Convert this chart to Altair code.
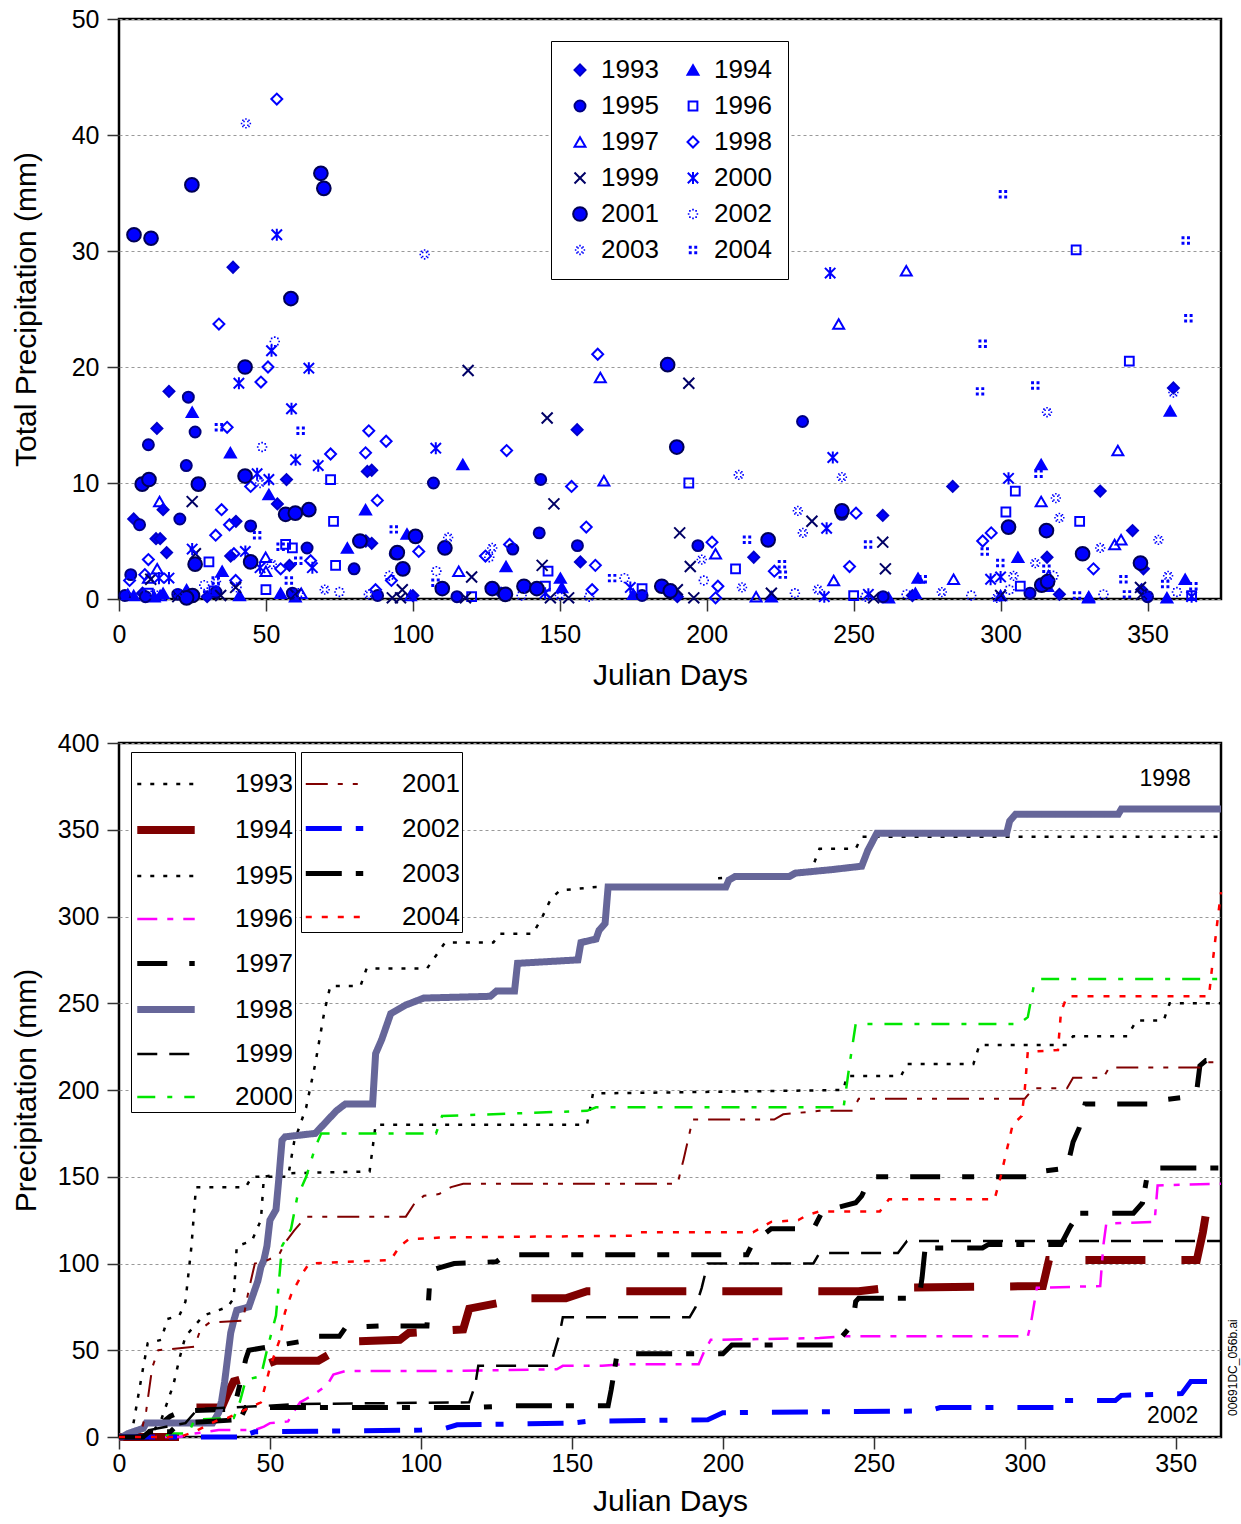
import math
import altair as alt
import pandas as pd

YEARS = ["1993", "1994", "1995", "1996", "1997", "1998",
         "1999", "2000", "2001", "2002", "2003", "2004"]

# ---------------- daily precipitation (day, mm) ----------------
S1993 = [(5, 6.9), (12.6, 5.2), (12.9, 14.7), (15, 7.7), (14, 5.2), (16.2, 4.0), (17, 17.9),
         (38.8, 28.6), (39.8, 6.7), (38, 3.7), (53.9, 8.2), (57, 10.3), (58, 2.9), (84, 5.0),
         (86, 11.1), (84.5, 11.0), (86, 4.8), (155.9, 14.6), (157, 3.2), (216, 3.6), (259.9, 7.2),
         (283.7, 9.7), (315.8, 3.6), (333.9, 9.3), (344.9, 5.9), (348.6, 2.6), (348, 0.8),
         (358.8, 18.2), (100, 0.3), (130, 0.5), (190, 0.2), (270, 0.3), (320, 0.4), (8, 0.5), (30, 0.2)]
S1994 = [(24.9, 16.1), (37.9, 12.6), (51, 9.0), (83.9, 7.7), (77.7, 4.4), (35.1, 2.4), (23, 0.8),
         (98, 5.6), (117, 11.6), (131.7, 2.8), (150.2, 1.8), (150.7, 1.0), (357.7, 16.2),
         (313.8, 11.6), (305.9, 3.6), (329.9, 0.1), (271, 0.5), (261.9, 0.1), (362.8, 1.7),
         (356.6, 0.1), (271.9, 1.8), (316, 1.1), (5, 0.3), (12, 0.2), (15, 0.5), (41, 0.3),
         (55, 0.5), (60, 0.2), (175, 0.4), (222, 0.2), (300, 0.3)]
S1995 = [(23.6, 17.4), (25.9, 14.4), (10, 13.3), (22.9, 11.5), (20.7, 6.9), (7, 6.4), (4, 2.1),
         (44.8, 6.3), (64, 4.4), (80, 2.6), (81.6, 5.0), (94, 3.9), (107, 10.0), (143.5, 10.3),
         (143, 5.7), (156, 4.6), (197, 4.6), (232.6, 15.3), (246, 7.3), (134, 4.3), (96.9, 2.6),
         (2, 0.3), (9, 0.2), (20, 0.4), (33, 0.6), (59, 0.5), (88, 0.3), (115, 0.2), (178, 0.3),
         (260, 0.2), (310, 0.5), (350, 0.2)]
S1996 = [(72, 10.3), (73, 6.7), (59, 4.4), (56.7, 4.7), (30.6, 3.2), (32.3, 0.7), (73.7, 2.9),
         (193.9, 10.0), (209.8, 2.6), (145.1, 1.1), (146, 2.4), (178, 0.9), (325.7, 30.1),
         (343.8, 20.5), (301.8, 7.5), (326.9, 6.7), (305, 9.3), (306.7, 1.1), (365, 0.3),
         (10, 0.5), (50, 0.8), (120, 0.2), (250, 0.3)]
S1997 = [(13.8, 8.4), (13, 2.6), (3, 0.4), (14, 0.3), (49.9, 3.6), (50, 2.4), (163.8, 19.1),
         (165, 10.2), (203, 3.9), (115.6, 2.4), (99.2, 0.3), (216.8, 0.2), (267.9, 28.3),
         (244.9, 23.7), (339.9, 12.8), (313.8, 8.4), (341, 5.1), (338.8, 4.7), (284, 1.7),
         (243.2, 1.6), (316.3, 2.0), (330, 0.2), (10, 1.8), (62, 0.5)]
S1998 = [(53.7, 43.1), (34, 23.7), (48.3, 18.7), (50.7, 20.0), (36.8, 14.8), (85, 14.5),
         (90.9, 13.6), (72, 12.5), (83.9, 12.6), (87.9, 8.5), (34.9, 7.7), (37.6, 6.4), (32.9, 5.5),
         (10, 3.4), (8.8, 2.1), (39.1, 3.9), (44.8, 9.7), (55, 2.6), (65.2, 3.3), (92.7, 1.6),
         (3.6, 1.6), (39.7, 1.6), (87.3, 0.8), (162.9, 21.1), (131.9, 12.8), (154, 9.7),
         (159, 6.2), (132.9, 4.7), (102, 4.1), (124.7, 3.7), (162.1, 2.9), (201.8, 4.9),
         (203.8, 1.1), (203, 0.1), (223, 2.4), (161, 0.8), (250.8, 7.4), (293.9, 5.0),
         (296.8, 5.7), (331.6, 2.6), (248.6, 2.8)]
S1999 = [(24.9, 8.4), (26, 3.9), (39.7, 1.0), (34.6, 0.3), (95.8, 0.1), (96.4, 0.8), (10.8, 1.7),
         (93, 0.1), (118.8, 19.7), (145.7, 15.6), (148, 8.2), (193.9, 18.6), (190.8, 5.7),
         (194.4, 2.8), (144, 2.9), (120, 1.9), (117.9, 0.1), (146.8, 0.1), (153, 0.1),
         (195.6, 0.1), (222, 0.5), (190, 0.8), (235.8, 6.7), (259.9, 4.9), (260.8, 2.6),
         (256.8, 0.1), (348, 0.4), (347.6, 1.0), (20, 0.2), (60, 0.4), (300, 0.3)]
S2000 = [(51.9, 21.4), (40.8, 18.6), (64.6, 19.9), (53.7, 31.4), (58.7, 16.4), (60.1, 12.0),
         (67.8, 11.5), (47, 10.8), (51, 10.3), (24.9, 4.3), (43, 4.1), (17, 1.8), (13.6, 1.8),
         (65.8, 2.7), (48, 2.7), (107.8, 13.0), (242, 28.1), (242.9, 12.2), (240.8, 6.1),
         (302.7, 10.4), (296.6, 1.7), (174, 1.0), (300, 1.9), (255, 0.4), (145, 0.5), (240, 0.2),
         (365, 0.2)]
S2001 = [(5.1, 31.4), (10.9, 31.1), (24.8, 35.7), (68.7, 36.7), (69.7, 35.4), (58.5, 25.9),
         (42.9, 20.0), (7.9, 9.9), (10.2, 10.3), (27, 9.9), (42.9, 10.6), (56.7, 7.3), (64.6, 7.7),
         (60, 7.4), (25.9, 3.0), (44.8, 3.2), (82, 5.0), (94.7, 4.0), (96.6, 2.6), (25, 0.3),
         (23, 0.1), (186.7, 20.2), (189.8, 13.1), (315.6, 5.9), (302.7, 6.2), (347.6, 3.1),
         (246, 7.6), (220.9, 5.1), (327.9, 3.9), (100.9, 5.4), (110.9, 4.4), (137.8, 1.1),
         (142.2, 0.9), (184.7, 1.1), (187.6, 0.7), (131.5, 0.4), (127, 0.9), (110, 0.9),
         (314, 1.2), (316, 1.5)]
S2002 = [(48.7, 13.1), (53, 22.2), (29, 1.2), (40, 1.0), (61, 0.5), (75, 0.6), (92, 2.0),
         (108, 2.4), (126, 3.6), (137, 0.3), (160, 0.2), (172, 1.8), (199, 1.6), (230, 0.5),
         (254, 0.2), (268, 0.4), (290, 0.3), (303, 0.8), (318, 2.0), (335, 0.4), (350, 0.3),
         (360, 0.6), (12, 0.4)]
S2003 = [(43.2, 41.0), (104, 29.7), (210.9, 10.7), (246, 10.5), (315.8, 16.1), (318.8, 8.7),
         (320, 7.0), (353.7, 5.1), (333.9, 4.4), (231, 7.6), (232.7, 5.7), (237.8, 0.8),
         (311.8, 3.1), (358.8, 17.8), (357, 2.0), (304.4, 2.0), (298.7, 0.1), (112, 5.3),
         (127, 4.4), (198.3, 3.4), (212, 1.0), (48, 10.0), (52, 3.0), (20, 0.5), (33, 1.5),
         (70, 0.8), (85, 0.4), (150, 0.3), (280, 0.6)]
S2004 = [(300.8, 34.9), (363, 30.9), (363.9, 24.2), (293.9, 22.0), (293, 17.9), (311.8, 18.4),
         (312.9, 10.8), (254.9, 4.7), (294.6, 4.1), (299.9, 3.1), (341.8, 1.7), (343, 0.4),
         (326, 0.3), (225.9, 2.1), (273.5, 1.7), (365.6, 1.1), (315.6, 2.6), (356, 1.3),
         (213.7, 5.1), (167.8, 1.8), (225.6, 3.0), (107.7, 1.4), (34, 14.8), (61.8, 14.5),
         (93.5, 6.0), (61, 3.3), (32.9, 1.6), (57.8, 1.6), (30, 0.4), (55, 4.5), (47, 5.5)]
SCATTER = [S1993, S1994, S1995, S1996, S1997, S1998, S1999, S2000, S2001, S2002, S2003, S2004]

# ---------------- cumulative precipitation (day, mm) ----------------
C1993 = [(0, 0), (4, 0), (6, 20), (8, 40), (9.5, 54), (14, 56), (16, 68), (20, 70), (22, 78),
         (24, 110), (25.5, 144), (42, 144), (44, 150), (56, 150), (58, 170), (62, 190), (65, 215),
         (68, 245), (70, 260), (80, 260), (82, 270), (102, 270), (106, 280), (108, 285), (124, 285),
         (126, 290), (137, 290), (140, 299), (143, 310), (146, 315), (158, 317), (196, 317),
         (198, 322), (220, 324), (229, 325), (232, 339), (244, 339), (246, 346), (365, 346)]
C1994 = [(0, 0), (20, 0), (24, 10), (25, 17), (34, 17), (36, 25), (38, 32), (44, 35), (46, 40),
         (52, 44), (66, 44), (70, 48), (75, 55), (93, 56), (96, 60), (114, 62), (116, 74), (128, 78),
         (130, 80), (148, 80), (155, 84), (245, 84), (255, 86), (306, 87), (308, 102), (357, 102),
         (359, 118), (361, 139), (365, 139)]
C1995 = [(0, 0), (10, 0), (14, 10), (18, 30), (20, 45), (22, 58), (28, 70), (36, 75), (38, 80),
         (39, 110), (44, 113), (47, 125), (48, 150), (55, 152), (83, 153), (85, 180), (155, 180),
         (157, 198), (240, 200), (241, 208), (259, 208), (261, 215), (283, 215), (285, 226),
         (314, 226), (316, 231), (334, 231), (337, 240), (346, 240), (348, 250), (365, 250)]
C1996 = [(0, 0), (20, 0), (25, 2), (33, 4), (45, 4), (48, 6), (50, 8), (56, 9), (58, 15), (60, 20),
         (65, 25), (69, 30), (71, 36), (75, 38), (108, 38), (145, 39), (147, 41), (160, 41),
         (167, 42), (192, 42), (194, 50), (196, 56), (232, 57), (240, 58), (301, 58), (302, 65),
         (304, 86), (325, 87), (326, 110), (327, 123), (343, 124), (344, 145), (365, 146)]
C1997 = [(0, 0), (10, 0), (12, 5), (17, 12), (21, 15), (38, 16), (40, 30), (42, 45), (43, 50),
         (60, 55), (63, 58), (73, 58), (75, 63), (86, 64), (102, 64), (103, 92), (105, 97),
         (111, 100), (125, 101), (128, 105), (208, 105), (210, 112), (216, 120), (230, 120),
         (233, 130), (244, 135), (246, 139), (249, 150), (303, 150), (305, 153), (314, 155),
         (316, 170), (318, 178), (320, 192), (342, 192), (344, 194), (354, 196), (357, 200),
         (358, 214), (360, 217), (365, 217)]
C1998 = [(0, 0), (1, 0), (3, 2), (8, 5), (9, 8), (31, 8), (33, 14), (34, 21), (35, 32), (36, 46),
         (37, 60), (38, 67), (39, 73), (43, 75), (45, 85), (46, 90), (47, 98), (48, 102), (49, 110),
         (50, 125), (51, 128), (52, 131), (53, 150), (54, 171), (55, 173), (65, 175), (72, 188),
         (75, 192), (84, 192), (85, 221), (87, 229), (90, 244), (95, 249), (101, 253), (123, 254),
         (125, 257), (131, 257), (132, 273), (152, 275), (153, 285), (158, 287), (159, 292),
         (161, 296), (162, 317), (201, 317), (202, 321), (204, 323), (222, 323), (224, 325),
         (236, 327), (246, 329), (248, 338), (251, 348), (294, 348), (295, 355), (297, 359),
         (331, 359), (332, 362), (365, 362)]
C1999 = [(0, 0), (8, 0), (10, 4), (22, 8), (26, 16), (60, 19), (116, 20), (118, 30), (119, 41),
         (143, 41), (144, 48), (146, 60), (147, 69), (189, 69), (191, 75), (193, 86), (195, 100),
         (230, 100), (232, 106), (258, 106), (261, 113), (365, 113)]
C2000 = [(0, 0), (15, 0), (17, 2), (23, 2), (25, 10), (38, 11), (40, 20), (42, 33), (47, 35),
         (49, 50), (52, 70), (53, 90), (54, 110), (57, 120), (59, 138), (62, 150), (65, 167),
         (67, 175), (105, 175), (107, 185), (155, 188), (158, 190), (240, 190), (242, 215),
         (244, 238), (298, 238), (301, 242), (303, 260), (305, 264), (365, 264)]
C2001 = [(0, 0), (7, 0), (9, 15), (11, 40), (13, 50), (25, 52), (27, 62), (30, 66), (41, 67),
         (43, 85), (45, 100), (48, 101), (53, 105), (55, 112), (58, 119), (62, 127), (95, 127),
         (98, 135), (101, 139), (106, 140), (110, 144), (114, 146), (185, 146), (187, 160),
         (190, 183), (217, 183), (220, 186), (232, 188), (243, 188), (245, 195), (300, 195),
         (303, 201), (314, 201), (316, 207), (326, 207), (328, 213), (358, 213), (360, 216),
         (365, 216)]
C2002 = [(0, 0), (40, 0), (45, 3), (100, 4), (108, 5), (112, 7), (150, 8), (155, 9), (195, 10),
         (200, 14), (268, 15), (272, 17), (310, 17), (313, 21), (330, 21), (332, 24), (352, 25),
         (355, 32), (365, 32)]
C2003 = [(0, 0), (8, 0), (10, 3), (17, 3), (20, 8), (40, 10), (42, 17), (117, 17), (130, 18),
         (162, 18), (163, 27), (165, 48), (200, 48), (203, 53), (237, 53), (243, 65), (244, 78),
         (245, 80), (265, 80), (266, 92), (267, 109), (286, 109), (288, 111), (312, 111),
         (315, 121), (318, 129), (336, 129), (339, 135), (341, 155), (365, 155)]
C2004 = [(0, 0), (20, 0), (25, 3), (33, 10), (36, 11), (47, 20), (50, 40), (53, 55), (55, 72),
         (57, 82), (61, 95), (63, 100), (90, 102), (93, 110), (96, 114), (107, 115), (170, 116),
         (172, 118), (210, 118), (213, 121), (216, 124), (225, 125), (228, 128), (232, 130),
         (252, 130), (255, 137), (290, 137), (292, 150), (294, 165), (296, 180), (299, 185),
         (300, 200), (301, 222), (311, 223), (312, 245), (314, 254), (361, 254), (362, 270),
         (364, 300), (365, 314)]
CUMUL = [C1993, C1994, C1995, C1996, C1997, C1998, C1999, C2000, C2001, C2002, C2003, C2004]

NOTE_TEXT = ["1998", "2002"]
NOTE_DAY = [346.5, 349]
NOTE_VAL = [379, 12]
FILE_TAG = "00691DC_056b.ai"

FONT = "Liberation Sans"

# ---------------- styles ----------------
def circ(r):
    return f"M{-r},0A{r},{r} 0 1,0 {r},0A{r},{r} 0 1,0 {-r},0Z"


def dots(centers, h):
    return "".join(f"M{x - h:.3f},{y - h:.3f}h{2 * h:.3f}v{2 * h:.3f}h{-2 * h:.3f}Z"
                   for x, y in centers)


ring = [(0.8 * math.cos(k * math.pi / 4), 0.8 * math.sin(k * math.pi / 4)) for k in range(8)]
diag = [(0.35, 0.35), (-0.35, 0.35), (0.35, -0.35), (-0.35, -0.35)]

SHAPES = [
    "diamond",
    "triangle-up",
    circ(1.0),
    "M-0.8,-0.8H0.8V0.8H-0.8Z",
    "triangle-up",
    "diamond",
    "M-1,-1L1,1M-1,1L1,-1",
    "M-0.95,-0.95L0.95,0.95M-0.95,0.95L0.95,-0.95M0,-1.1L0,1.1",
    circ(1.25),
    dots(ring, 0.15),
    dots(ring + diag, 0.14),
    dots([(-0.5, -0.5), (0.5, -0.5), (-0.5, 0.5), (0.5, 0.5)], 0.27),
]
FILLS = ["#0000ff", "#0000ff", "#0000ff", "transparent", "transparent", "transparent",
         "transparent", "transparent", "#0000ff", "#0000ff", "#0000ff", "#0000ff"]
STROKES = ["#0000cc", "#0000ff", "#000080", "#0000ff", "#0000ff", "#0000ff",
           "#000066", "#0000ff", "#000055", "transparent", "transparent", "transparent"]

LINE_COLORS = ["#000000", "#7f0000", "#000000", "#ff00ff", "#000000", "#666699",
               "#000000", "#00e600", "#800000", "#0000ff", "#000000", "#ff0000"]
LINE_DASH = [[4, 9], [60, 36], [4, 9], [20, 10, 6, 10], [30, 22, 12, 22], [1, 0],
             [20, 12], [18, 12, 5, 12], [22, 10, 5, 10, 5, 10], [36, 14, 8, 24],
             [36, 14, 8, 24], [6, 10]]
LINE_WIDTH = [2.5, 8, 2.5, 2.5, 5, 7, 2.5, 2.5, 2, 5, 5, 2.5]

# legend of the top chart reads row by row: odd years in column 1, even years in column 2
LEG_ORDER = [0, 2, 4, 6, 8, 10, 1, 3, 5, 7, 9, 11]

# ---------------- data frames ----------------
sdf = pd.DataFrame([{"year": y, "day": d, "value": v}
                    for y, pts in zip(YEARS, SCATTER) for d, v in pts])
cdf = pd.DataFrame([{"year": y, "day": d, "value": v, "i": i}
                    for y, pts in zip(YEARS, CUMUL) for i, (d, v) in enumerate(pts)])
ndf = pd.DataFrame({"label": NOTE_TEXT, "day": NOTE_DAY, "value": NOTE_VAL})
tdf = pd.DataFrame({"label": [FILE_TAG], "day": [369.0], "value": [40]})

# ---------------- top chart ----------------
leg_top = alt.Legend(title=None, orient="none", legendX=432, legendY=22, columns=2,
                     columnPadding=21, rowPadding=10, padding=16, strokeColor="black",
                     fillColor="white", labelFontSize=26, labelFont=FONT, labelColor="black",
                     symbolSize=120, symbolStrokeWidth=2, labelOffset=8)

dom = [YEARS[k] for k in LEG_ORDER]
top = alt.Chart(sdf).mark_point(size=120, strokeWidth=2, opacity=1).encode(
    x=alt.X("day:Q", scale=alt.Scale(domain=[0, 375], nice=False),
            axis=alt.Axis(values=list(range(0, 351, 50)), title="Julian Days", grid=False,
                          labelPadding=11, titlePadding=13)),
    y=alt.Y("value:Q", scale=alt.Scale(domain=[0, 50], nice=False),
            axis=alt.Axis(values=[0, 10, 20, 30, 40, 50], title="Total Precipitation (mm)",
                          grid=True, titleX=-84, titleY=290)),
    shape=alt.Shape("year:N", scale=alt.Scale(domain=dom, range=[SHAPES[k] for k in LEG_ORDER]),
                    legend=leg_top),
    fill=alt.Fill("year:N", scale=alt.Scale(domain=dom, range=[FILLS[k] for k in LEG_ORDER]),
                  legend=leg_top),
    stroke=alt.Stroke("year:N", scale=alt.Scale(domain=dom, range=[STROKES[k] for k in LEG_ORDER]),
                      legend=leg_top),
).properties(width=1102, height=580)

# ---------------- bottom chart ----------------
xb = alt.X("day:Q", scale=alt.Scale(domain=[0, 365], nice=False),
           axis=alt.Axis(values=list(range(0, 351, 50)), title="Julian Days", grid=False,
                         labelPadding=2, titlePadding=10))
yb = alt.Y("value:Q", scale=alt.Scale(domain=[0, 400], nice=False),
           axis=alt.Axis(values=list(range(0, 401, 50)), title="Precipitation (mm)",
                         grid=True, titleX=-84, titleY=347))


def line_layer(years, legx):
    idx = [YEARS.index(y) for y in years]
    leg = alt.Legend(title=None, orient="none", legendX=legx, legendY=9, symbolType="stroke",
                     symbolSize=3300, labelFontSize=26, labelFont=FONT, labelColor="black",
                     rowPadding=0, padding=2, labelOffset=36, strokeColor="black",
                     fillColor="white")
    return alt.Chart(cdf[cdf["year"].isin(years)]).mark_line(strokeCap="butt").encode(
        x=xb, y=yb,
        color=alt.Color("year:N", scale=alt.Scale(domain=years,
                        range=[LINE_COLORS[i] for i in idx]), legend=leg),
        strokeDash=alt.StrokeDash("year:N", scale=alt.Scale(domain=years,
                                  range=[LINE_DASH[i] for i in idx]), legend=leg),
        strokeWidth=alt.StrokeWidth("year:N", scale=alt.Scale(type="ordinal", domain=years,
                                    range=[LINE_WIDTH[i] for i in idx]), legend=leg),
        order="i:Q",
    )


layer_a = line_layer(YEARS[:8], 12)
layer_b = line_layer(YEARS[8:], 182)

notes = alt.Chart(ndf).mark_text(fontSize=23, font=FONT, color="black").encode(
    x=alt.X("day:Q"), y=alt.Y("value:Q"), text="label:N")
tag = alt.Chart(tdf).mark_text(fontSize=12, font=FONT, color="black", angle=270).encode(
    x=alt.X("day:Q"), y=alt.Y("value:Q"), text="label:N")

bottom = alt.layer(layer_a, layer_b, notes, tag).resolve_scale(
    color="independent", strokeDash="independent", strokeWidth="independent"
).properties(width=1102, height=694)

chart = alt.vconcat(top, bottom, spacing=37).properties(
    padding={"left": 9, "top": 5, "right": 0, "bottom": 0}
).configure(font=FONT).configure_view(
    stroke="black", strokeWidth=2.5
).configure_axis(
    labelFontSize=25, titleFontSize=30, labelColor="black", titleColor="black",
    titleFontWeight="normal", tickSize=12, tickColor="#333333", tickWidth=1.5,
    domain=False, gridColor="#999999", gridDash=[3, 3], gridWidth=1,
    labelFont=FONT, titleFont=FONT, labelFlush=False
).configure_axisY(
    labelPadding=8, titleAngle=270, titleAlign="center", titleBaseline="alphabetic"
)

chart.save("out.html", embed_options={"renderer": "svg", "actions": False})
